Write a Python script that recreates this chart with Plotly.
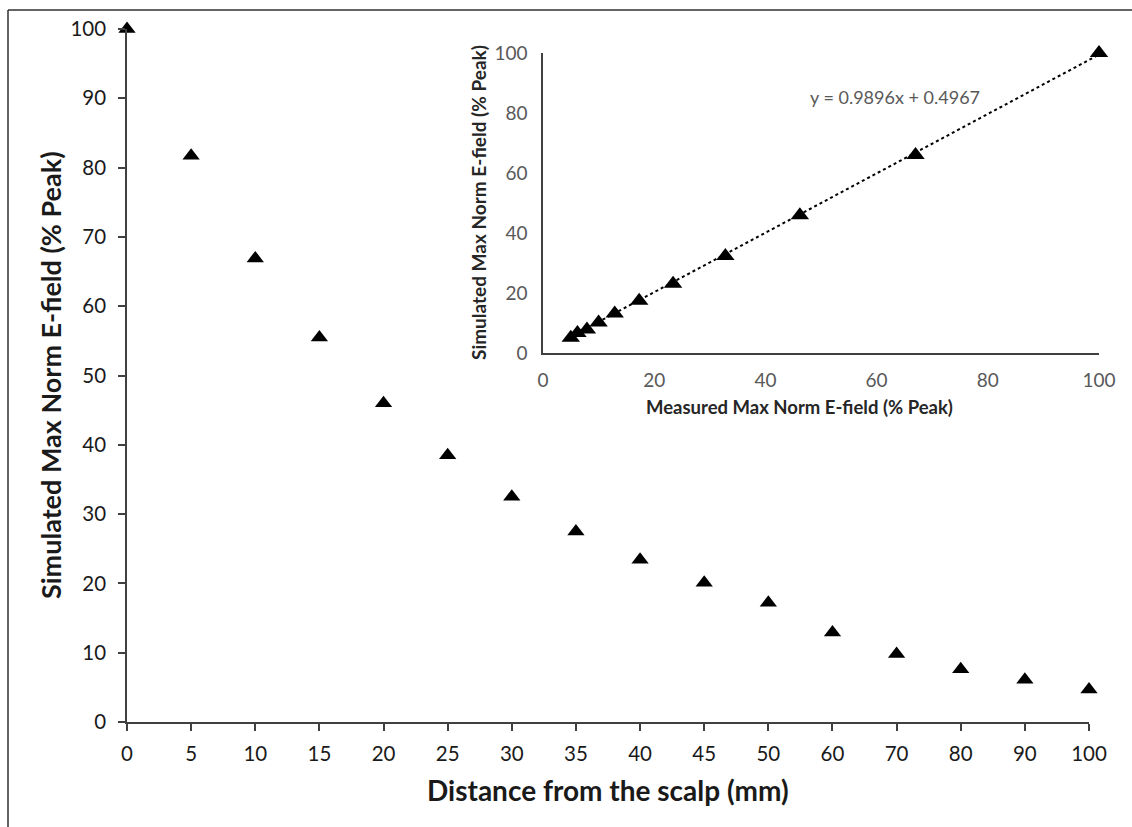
import numpy as np
import plotly.graph_objects as go

# ---- data ----
distance_mm = ["0", "5", "10", "15", "20", "25", "30", "35", "40", "45", "50",
               "60", "70", "80", "90", "100"]
simulated_pct = [100, 81.7, 66.9, 55.5, 46.0, 38.5, 32.5, 27.5, 23.4, 20.1, 17.2,
                 12.9, 9.8, 7.6, 6.1, 4.7]

measured_inset = [100, 67.0, 46.2, 32.8, 23.4, 17.3, 12.9, 10.0, 7.9, 6.2, 5.0]
simulated_inset = [100, 66.0, 45.9, 32.3, 23.1, 17.4, 13.2, 10.2, 7.8, 6.7, 5.1]

fit_slope = 0.9896
fit_intercept = 0.4967

FONT = "Lato"
AX = "#404040"

fig = go.Figure()

# main series
fig.add_trace(go.Scatter(
    x=distance_mm, y=simulated_pct, mode="markers",
    marker=dict(symbol="triangle-up", size=15, color="black"),
    cliponaxis=False, showlegend=False, xaxis="x", yaxis="y"))

# inset trendline
xl = np.array([min(measured_inset), max(measured_inset)])
fig.add_trace(go.Scatter(
    x=xl, y=fit_slope * xl + fit_intercept, mode="lines",
    line=dict(color="black", width=2, dash="dot"),
    showlegend=False, xaxis="x2", yaxis="y2"))

# inset points
fig.add_trace(go.Scatter(
    x=measured_inset, y=simulated_inset, mode="markers",
    marker=dict(symbol="triangle-up", size=16, color="black"),
    cliponaxis=False, showlegend=False, xaxis="x2", yaxis="y2"))

W, H = 1132, 827
L, R, T, B = 127, 30, 29, 105
pw, ph = W - L - R, H - T - B

def px(x):
    return (x - L) / pw

def py(y):
    return (H - B - y) / ph

fig.update_layout(
    width=W, height=H,
    margin=dict(l=L, r=R, t=T, b=B),
    paper_bgcolor="white", plot_bgcolor="white",
    font=dict(family=FONT, color="#1a1a1a"),
    xaxis=dict(
        type="category", domain=[0, px(1089)], range=[0, 15],
        showline=True, linecolor=AX, linewidth=1.5,
        ticks="outside", ticklen=7, tickcolor=AX, tickwidth=1.5,
        showgrid=False, zeroline=False,
        tickfont=dict(size=20.5, color="#1a1a1a"), ticklabelstandoff=6),
    yaxis=dict(
        domain=[0, 1], range=[0, 100], dtick=10,
        showline=True, linecolor=AX, linewidth=1.5,
        ticks="outside", ticklen=7, tickcolor=AX, tickwidth=1.5,
        showgrid=False, zeroline=False,
        tickfont=dict(size=20.5, color="#1a1a1a"), ticklabelstandoff=8),
    xaxis2=dict(
        domain=[px(543), px(1099)], range=[0, 100], dtick=20, anchor="y2",
        showline=True, linecolor=AX, linewidth=1.5, ticks="",
        showgrid=False, zeroline=False,
        tickfont=dict(size=19, color="#595959"), ticklabelstandoff=9),
    yaxis2=dict(
        domain=[py(353), py(53)], range=[0, 100], dtick=20, anchor="x2",
        showline=True, linecolor=AX, linewidth=1.5, ticks="",
        showgrid=False, zeroline=False,
        tickfont=dict(size=19, color="#595959"), ticklabelstandoff=10),
    annotations=[
        dict(text="<b>Simulated Max Norm E-field (% Peak)</b>", xref="paper", yref="paper",
             x=px(50), y=py(375), textangle=-90, showarrow=False,
             font=dict(size=27, color="#1a1a1a"), xanchor="center", yanchor="middle"),
        dict(text="<b>Distance from the scalp (mm)</b>", xref="paper", yref="paper",
             x=px(608), y=py(790), showarrow=False,
             font=dict(size=28, color="#1a1a1a"), xanchor="center", yanchor="middle"),
        dict(text="<b>Simulated Max Norm E-field (% Peak)</b>", xref="paper", yref="paper",
             x=px(478), y=py(203), textangle=-90, showarrow=False,
             font=dict(size=19, color="#262626"), xanchor="center", yanchor="middle"),
        dict(text="<b>Measured Max Norm E-field (% Peak)</b>", xref="paper", yref="paper",
             x=px(799), y=py(407), showarrow=False,
             font=dict(size=18.5, color="#262626"), xanchor="center", yanchor="middle"),
        dict(text="y = 0.9896x + 0.4967", xref="paper", yref="paper",
             x=px(895), y=py(97), showarrow=False,
             font=dict(size=18, color="#595959"), xanchor="center", yanchor="middle"),
    ],
    shapes=[
        dict(type="line", xref="paper", yref="paper",
             x0=px(8), x1=px(1140), y0=py(10), y1=py(10),
             line=dict(color="#303030", width=1.5)),
        dict(type="line", xref="paper", yref="paper",
             x0=px(8), x1=px(8), y0=py(10), y1=py(840),
             line=dict(color="#303030", width=1.5)),
    ],
)

fig.write_html("out.html")
